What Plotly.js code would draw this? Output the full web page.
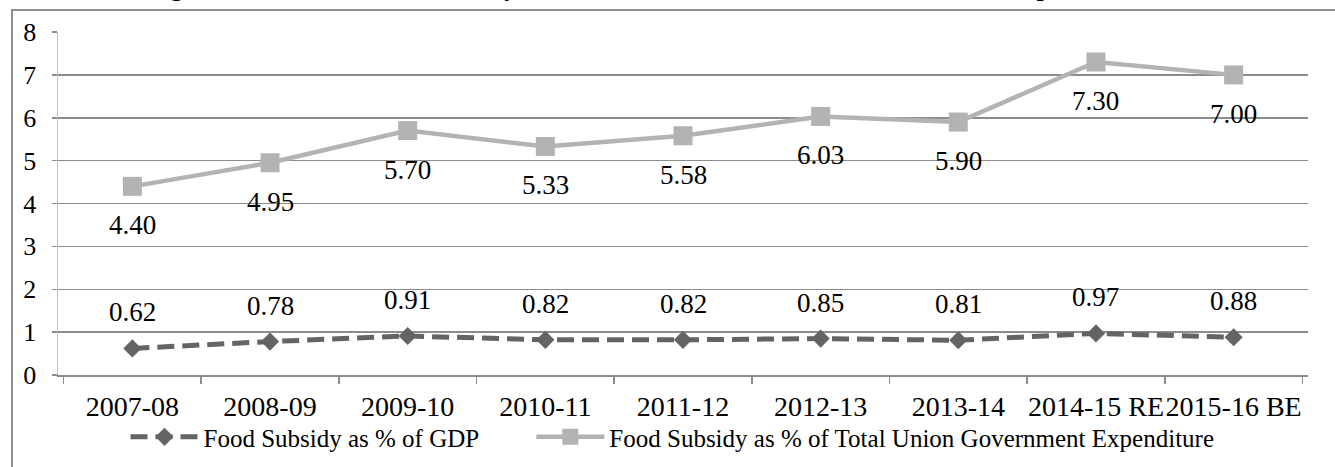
<!DOCTYPE html>
<html>
<head>
<meta charset="utf-8">
<script src="https://cdn.plot.ly/plotly-3.0.1.min.js"></script>
<style>
  html, body { margin: 0; padding: 0; background: #ffffff; overflow: hidden; }
  #wrap { position: relative; width: 1335px; height: 467px; }
  #chart { position: absolute; left: 0; top: 0; width: 1335px; height: 467px; }
  #frame { position: absolute; left: 11px; top: 9px; width: 1400px; height: 520px;
           border: 2px solid #8f8f8f; pointer-events: none; }
</style>
</head>
<body>
<div id="wrap">
  <div id="chart"></div>
  <div id="frame"></div>
</div>
<script>
// Fiscal years shown on the category axis
const years = ['2007-08', '2008-09', '2009-10', '2010-11', '2011-12',
               '2012-13', '2013-14', '2014-15 RE', '2015-16 BE'];

// Food subsidy as a share of GDP (%)
const subsidyPctGDP = [0.62, 0.78, 0.91, 0.82, 0.82, 0.85, 0.81, 0.97, 0.88];

// Food subsidy as a share of total Union Government expenditure (%)
const subsidyPctExp = [4.40, 4.95, 5.70, 5.33, 5.58, 6.03, 5.90, 7.30, 7.00];

const seriesNames = ['Food Subsidy as % of GDP',
                     'Food Subsidy as % of Total Union Government Expenditure'];

const chartTitle = 'Figure 1: Trends in Food Subsidy as % of GDP and Total Union Government Expenditure';

const serif = 'Liberation Serif, Times New Roman, serif';

const traces = [
  {
    x: years, y: subsidyPctGDP, name: seriesNames[0], legend: 'legend',
    type: 'scatter', mode: 'lines+markers',
    line: { color: '#646464', width: 5, dash: '17px,8px' },
    marker: { symbol: 'diamond', size: 14, color: '#646464' },
    hoverinfo: 'x+y'
  },
  {
    x: years, y: subsidyPctExp, name: seriesNames[1], legend: 'legend2',
    type: 'scatter', mode: 'lines+markers',
    line: { color: '#b3b3b3', width: 4.5 },
    marker: { symbol: 'square', size: 19, color: '#b3b3b3' },
    hoverinfo: 'x+y'
  }
];

// Value labels: GDP share above its points, expenditure share below
const labels = [];
years.forEach((yr, i) => {
  labels.push({
    x: yr, y: subsidyPctGDP[i], xref: 'x', yref: 'y',
    text: subsidyPctGDP[i].toFixed(2), showarrow: false,
    yshift: 36, font: { family: serif, size: 27, color: '#000' }
  });
  labels.push({
    x: yr, y: subsidyPctExp[i], xref: 'x', yref: 'y',
    text: subsidyPctExp[i].toFixed(2), showarrow: false,
    yshift: -39, font: { family: serif, size: 27, color: '#000' }
  });
});

// Heading sits above the plot frame, mostly outside the page
labels.push({
  xref: 'paper', yref: 'paper', x: 0.47, y: 1.082,
  xanchor: 'center', yanchor: 'bottom', showarrow: false,
  text: '<b>' + chartTitle + '</b>',
  font: { family: serif, size: 26, color: '#000' }
});

const legendBase = {
  orientation: 'h', xref: 'container', yref: 'container',
  y: 0.064, yanchor: 'middle', xanchor: 'left',
  font: { family: serif, size: 25, color: '#000' },
  itemwidth: 68, bgcolor: 'rgba(0,0,0,0)'
};

const layout = {
  width: 1335, height: 467,
  margin: { l: 58, r: 27, t: 32, b: 92 },
  paper_bgcolor: '#ffffff', plot_bgcolor: '#ffffff',
  showlegend: true,
  font: { family: serif, color: '#000' },
  xaxis: {
    type: 'category',
    showgrid: false, zeroline: false,
    showline: true, linecolor: '#8c8c8c', linewidth: 1.5,
    ticks: 'outside', tickson: 'boundaries', ticklen: 7,
    tickcolor: '#8c8c8c', tickwidth: 1.5,
    tickangle: 0,
    ticklabelstandoff: 6,
    tickfont: { family: serif, size: 28, color: '#000' },
    automargin: false,
    fixedrange: true
  },
  yaxis: {
    range: [0, 8], dtick: 1, tick0: 0,
    showgrid: true, gridcolor: '#8c8c8c', gridwidth: 1.5,
    zeroline: false,
    showline: true, linecolor: '#c0c0c0', linewidth: 1.5,
    ticks: 'outside', ticklen: 5, tickcolor: '#8c8c8c', tickwidth: 1.5,
    ticklabelstandoff: 10,
    tickfont: { family: serif, size: 26, color: '#000' },
    automargin: false,
    fixedrange: true
  },
  legend: Object.assign({}, legendBase, { x: 0.094 }),
  legend2: Object.assign({}, legendBase, { x: 0.398 }),
  annotations: labels
};

Plotly.newPlot('chart', traces, layout, { displayModeBar: false, staticPlot: true });
</script>
</body>
</html>
